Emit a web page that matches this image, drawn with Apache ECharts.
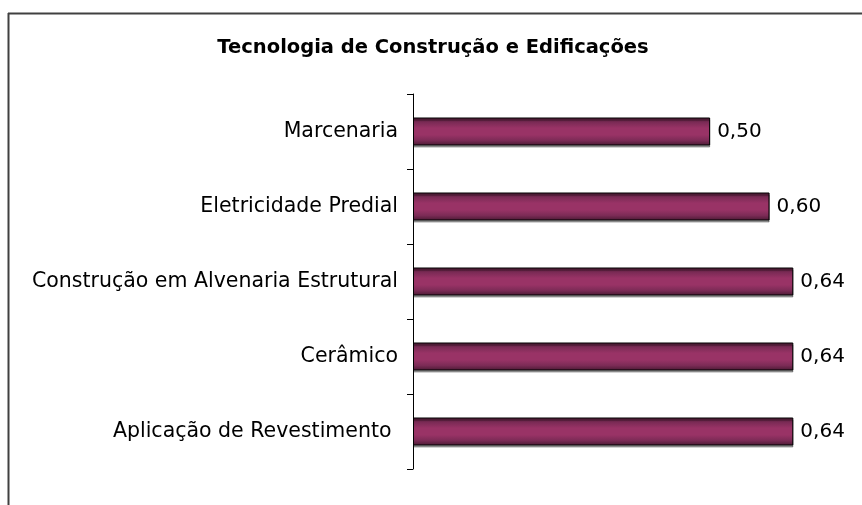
<!DOCTYPE html>
<html><head><meta charset="utf-8">
<script src="https://cdn.jsdelivr.net/npm/echarts@6/dist/echarts.min.js"></script>
<style>html,body{margin:0;padding:0;background:#fff}#c{width:862px;height:505px}</style>
</head><body><div id="c"></div>
<script>
const titleText = 'Tecnologia de Construção e Edificações';
const categories = ['Marcenaria', 'Eletricidade Predial', 'Construção em Alvenaria Estrutural', 'Cerâmico', 'Aplicação de Revestimento '];
const values = [0.50, 0.60, 0.64, 0.64, 0.64];

const chart = echarts.init(document.getElementById('c'), null, {renderer: 'canvas'});
const font = '"DejaVu Sans", sans-serif';
chart.setOption({
  backgroundColor: '#ffffff',
  animation: false,
  title: {
    text: titleText, left: 428, top: 33, textAlign: 'center',
    textStyle: {fontFamily: font, fontWeight: 'bold', fontSize: 19.5, color: '#000'}
  },
  graphic: [
    {type: 'line', shape: {x1: 8.5, y1: 13, x2: 8.5, y2: 505}, style: {stroke: '#404040', lineWidth: 2}},
    {type: 'line', shape: {x1: 8, y1: 13.5, x2: 862, y2: 13.5}, style: {stroke: '#404040', lineWidth: 2}}
  ],
  grid: {left: 413, right: 33, top: 94, bottom: 36, containLabel: false},
  xAxis: {type: 'value', min: 0, max: 0.7, show: false},
  yAxis: {
    type: 'category', data: categories, inverse: true,
    axisLine: {lineStyle: {color: '#000', width: 1}},
    axisTick: {show: true, length: 6, lineStyle: {color: '#000'}},
    axisLabel: {fontFamily: font, fontSize: 20.5, color: '#000', margin: 15}
  },
  series: [{
    type: 'bar', data: values, barWidth: 28,
    itemStyle: {
      borderColor: '#000', borderWidth: 1,
      color: {type: 'linear', x: 0, y: 0, x2: 0, y2: 1, colorStops: [
        {offset: 0, color: '#4a1a33'}, {offset: 0.18, color: '#7c2b56'},
        {offset: 0.38, color: '#993366'}, {offset: 0.62, color: '#993366'},
        {offset: 0.82, color: '#7c2b56'}, {offset: 1, color: '#4a1a33'}]},
      shadowColor: 'rgba(0,0,0,0.35)', shadowOffsetY: 2, shadowBlur: 0
    },
    label: {
      show: true, position: 'right', distance: 7,
      fontFamily: font, fontSize: 20, color: '#000',
      formatter: p => p.value.toFixed(2).replace('.', ',')
    }
  }]
});
</script></body></html>
